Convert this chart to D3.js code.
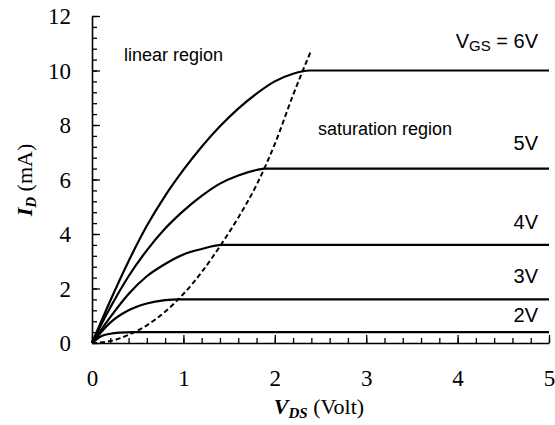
<!DOCTYPE html>
<html>
<head>
<meta charset="utf-8">
<script src="https://cdn.jsdelivr.net/npm/d3@7"></script>
<style>
  body { margin: 0; background: #fff; }
  svg text { fill: #000; }
</style>
</head>
<body>
<svg id="chart" width="555" height="425"></svg>
<script>
// drain current curves, [V_DS (V), I_D (mA)]
const id2V = [[0, 0], [0.1, 0.25], [0.2, 0.34], [0.3, 0.38], [0.45, 0.4], [5, 0.4]];
const id3V = [[0, 0], [0.2, 0.75], [0.4, 1.2], [0.6, 1.45], [0.8, 1.57], [0.95, 1.6], [5, 1.6]];
const id4V = [[0, 0], [0.2, 0.95], [0.4, 1.8], [0.6, 2.45], [0.8, 2.9], [1.0, 3.25], [1.2, 3.45], [1.42, 3.6], [5, 3.6]];
const id5V = [[0, 0], [0.2, 1.3], [0.4, 2.45], [0.6, 3.4], [0.8, 4.2], [1.0, 4.85], [1.2, 5.4], [1.4, 5.85], [1.6, 6.15], [1.8, 6.35], [1.9, 6.4], [5, 6.4]];
const id6V = [[0, 0], [0.2, 1.55], [0.4, 3.0], [0.6, 4.3], [0.8, 5.4], [1.0, 6.35], [1.2, 7.2], [1.4, 7.95], [1.6, 8.6], [1.8, 9.15], [2.0, 9.6], [2.2, 9.88], [2.38, 10], [5, 10]];
// boundary between linear and saturation region
const boundary = [[0, 0], [0.2, 0.07], [0.4, 0.3], [0.6, 0.65], [0.8, 1.15], [1.0, 1.8], [1.2, 2.6], [1.4, 3.55], [1.6, 4.6], [1.8, 5.8], [2.0, 7.3], [2.2, 9.1], [2.4, 10.75]];

const curves = [id2V, id3V, id4V, id5V, id6V];
const curveLabels = ['2V', '3V', '4V', '5V', '6V'];
const satCurrent = [0.4, 1.6, 3.6, 6.4, 10];

const xTicks = [0, 1, 2, 3, 4, 5];
const yTicks = [0, 2, 4, 6, 8, 10, 12];
const xMinor = d3.range(0, 5.001, 0.2);
const yMinor = d3.range(0, 12.001, 0.4);

const svg = d3.select('#chart');
const serif = '"Liberation Serif", "Times New Roman", serif';
const sans = '"Liberation Sans", Arial, sans-serif';

const x = d3.scaleLinear().domain([0, 5]).range([92, 549]);
const y = d3.scaleLinear().domain([0, 12]).range([343, 16]);

// minor ticks first, then the major axes on top
svg.append('g')
  .attr('transform', `translate(0,${y(0)})`)
  .call(d3.axisBottom(x).tickValues(xMinor).tickSize(-5).tickSizeOuter(0).tickFormat(''))
  .call(g => g.select('.domain').remove());
svg.append('g')
  .attr('transform', `translate(${x(0)},0)`)
  .call(d3.axisLeft(y).tickValues(yMinor).tickSize(-5).tickSizeOuter(0).tickFormat(''))
  .call(g => g.select('.domain').remove());

const xAxis = svg.append('g')
  .attr('transform', `translate(0,${y(0)})`)
  .call(d3.axisBottom(x).tickValues(xTicks).tickSize(-8).tickSizeOuter(0)
    .tickPadding(27).tickFormat(d3.format('d')));
const yAxis = svg.append('g')
  .attr('transform', `translate(${x(0)},0)`)
  .call(d3.axisLeft(y).tickValues(yTicks).tickSize(-8).tickSizeOuter(0)
    .tickPadding(21).tickFormat(d3.format('d')));

svg.selectAll('.tick line').attr('stroke', '#000').attr('stroke-width', 1.3);
svg.selectAll('.domain').attr('stroke', '#000').attr('stroke-width', 1.6);
[xAxis, yAxis].forEach(a => {
  a.attr('font-family', null).attr('font-size', null);
  a.selectAll('text')
    .style('font-family', serif).style('font-size', '23px').attr('fill', '#000');
});
yAxis.selectAll('text').attr('dy', '0.34em');

const line = d3.line()
  .x(d => x(d[0]))
  .y(d => y(d[1]))
  .curve(d3.curveMonotoneX);

svg.append('g').selectAll('path')
  .data(curves)
  .enter()
  .append('path')
  .attr('d', line)
  .attr('fill', 'none')
  .attr('stroke', '#000')
  .attr('stroke-width', 2.2);

svg.append('path')
  .attr('d', line(boundary))
  .attr('fill', 'none')
  .attr('stroke', '#000')
  .attr('stroke-width', 2)
  .attr('stroke-dasharray', '5,3');

// curve labels, right aligned above each saturation level
const labelLift = [10, 16, 16, 19, 23];
curveLabels.forEach((lab, i) => {
  const t = svg.append('text')
    .attr('x', 538)
    .attr('y', y(satCurrent[i]) - labelLift[i])
    .attr('text-anchor', 'end')
    .style('font-family', sans)
    .style('font-size', '20px');
  if (i === curveLabels.length - 1) {
    t.append('tspan').text('V');
    t.append('tspan').style('font-size', '15px').attr('dy', 3).text('GS');
    t.append('tspan').attr('dy', -3).text(' = ' + lab);
  } else {
    t.text(lab);
  }
});

svg.append('text')
  .attr('x', 124).attr('y', 61)
  .style('font-family', sans).style('font-size', '18px')
  .text('linear region');
svg.append('text')
  .attr('x', 318).attr('y', 135)
  .style('font-family', sans).style('font-size', '18px')
  .text('saturation region');

// axis titles
const xt = svg.append('text')
  .attr('x', 319).attr('y', 414)
  .attr('text-anchor', 'middle')
  .style('font-family', serif).style('font-size', '22px');
xt.append('tspan').style('font-weight', 'bold').style('font-style', 'italic').text('V');
xt.append('tspan').style('font-weight', 'bold').style('font-style', 'italic')
  .style('font-size', '15px').attr('dy', 4).text('DS');
xt.append('tspan').attr('dy', -4).text(' (Volt)');

const yt = svg.append('text')
  .attr('transform', 'translate(32,180) rotate(-90)')
  .attr('text-anchor', 'middle')
  .style('font-family', serif).style('font-size', '22px');
yt.append('tspan').style('font-weight', 'bold').style('font-style', 'italic').text('I');
yt.append('tspan').style('font-weight', 'bold').style('font-style', 'italic')
  .style('font-size', '15px').attr('dy', 4).text('D');
yt.append('tspan').attr('dy', -4).text(' (mA)');
</script>
</body>
</html>
